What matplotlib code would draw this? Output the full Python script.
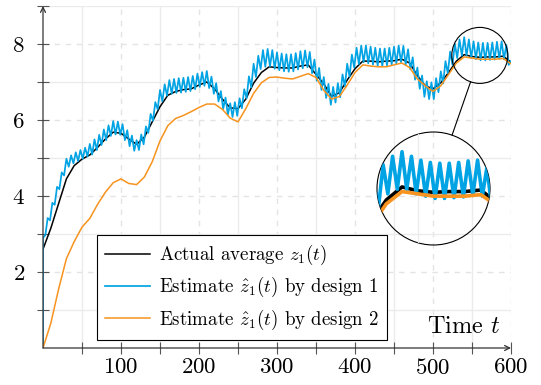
import numpy as np
import matplotlib
matplotlib.use('Agg')
import matplotlib.pyplot as plt
from matplotlib.patches import Circle, Ellipse
from matplotlib.lines import Line2D

plt.rcParams['font.family'] = ['cmr10', 'DejaVu Serif']
plt.rcParams['mathtext.fontset'] = 'cm'
plt.rcParams['axes.formatter.use_mathtext'] = True

# ---- data ----
t_coarse = np.arange(0, 601, 10)

actual_avg = [2.60, 3.15, 3.80, 4.45, 4.80, 4.97, 5.08, 5.28, 5.50, 5.68,
              5.65, 5.50, 5.36, 5.55, 5.95, 6.35, 6.65, 6.75, 6.80, 6.82,
              6.92, 7.00, 6.82, 6.55, 6.32, 6.30, 6.55, 6.97, 7.25, 7.40,
              7.38, 7.37, 7.37, 7.42, 7.45, 7.20, 6.95, 6.62, 6.72, 7.05,
              7.35, 7.55, 7.55, 7.53, 7.55, 7.56, 7.60, 7.50, 7.17, 6.90,
              6.82, 6.98, 7.25, 7.55, 7.72, 7.67, 7.65, 7.66, 7.66, 7.68,
              7.52]

design2 = [0.00, 0.65, 1.55, 2.35, 2.80, 3.18, 3.41, 3.78, 4.10, 4.35,
           4.45, 4.33, 4.30, 4.50, 4.90, 5.45, 5.85, 6.04, 6.12, 6.22,
           6.33, 6.42, 6.42, 6.28, 6.05, 5.95, 6.30, 6.70, 6.98, 7.12,
           7.13, 7.10, 7.08, 7.15, 7.22, 7.12, 6.78, 6.55, 6.62, 6.92,
           7.25, 7.45, 7.42, 7.40, 7.40, 7.45, 7.50, 7.38, 7.08, 6.90,
           6.75, 6.90, 7.20, 7.50, 7.66, 7.63, 7.60, 7.60, 7.60, 7.62,
           7.48]

t_fine = np.concatenate([[0], np.arange(0, 601, 3)])

design1 = [0.00,
           2.90, 2.97, 3.42, 3.36, 3.82, 3.77, 4.24, 4.18, 4.62, 4.54,
           4.98, 4.77, 5.07, 4.86, 5.15, 4.92, 5.21, 4.98, 5.27, 5.04,
           5.37, 5.09, 5.49, 5.21, 5.61, 5.34, 5.75, 5.47, 5.86, 5.58,
           5.97, 5.62, 5.96, 5.61, 5.89, 5.47, 5.73, 5.31, 5.59, 5.19,
           5.47, 5.21, 5.62, 5.36, 5.83, 5.66, 6.16, 5.98, 6.47, 6.28,
           6.79, 6.49, 6.94, 6.64, 7.05, 6.69, 7.08, 6.71, 7.10, 6.72,
           7.11, 6.74, 7.13, 6.76, 7.16, 6.81, 7.22, 6.87, 7.26, 6.90,
           7.29, 6.84, 7.14, 6.69, 6.97, 6.49, 6.76, 6.29, 6.59, 6.14,
           6.44, 6.08, 6.47, 6.11, 6.57, 6.31, 6.81, 6.57, 7.15, 6.86,
           7.48, 7.13, 7.69, 7.34, 7.84, 7.40, 7.87, 7.41, 7.84, 7.35,
           7.78, 7.31, 7.75, 7.28, 7.73, 7.27, 7.73, 7.28, 7.76, 7.33,
           7.81, 7.36, 7.83, 7.39, 7.79, 7.23, 7.59, 7.03, 7.37, 6.79,
           7.13, 6.58, 6.95, 6.40, 6.87, 6.46, 6.97, 6.60, 7.20, 6.88,
           7.48, 7.14, 7.72, 7.38, 7.90, 7.47, 7.96, 7.52, 7.96, 7.49,
           7.93, 7.46, 7.90, 7.43, 7.88, 7.42, 7.88, 7.43, 7.90, 7.46,
           7.93, 7.49, 7.96, 7.52, 7.95, 7.45, 7.86, 7.33, 7.65, 7.06,
           7.38, 6.82, 7.17, 6.61, 7.02, 6.55, 6.99, 6.55, 7.10, 6.73,
           7.28, 6.96, 7.55, 7.23, 7.80, 7.45, 8.01, 7.63, 8.12, 7.69,
           8.18, 7.69, 8.12, 7.63, 8.07, 7.60, 8.04, 7.57, 8.03, 7.57,
           8.03, 7.58, 8.04, 7.59, 8.06, 7.61, 8.07, 7.60, 7.98, 7.45,
           7.55]

labels = [r'Actual average $z_1(t)$',
          r'Estimate $\hat{z}_1(t)$ by design 1',
          r'Estimate $\hat{z}_1(t)$ by design 2']
colors = ['black', '#00a3e3', '#f7931e']

# zoom window (center and half sizes, data units)
zoom_c = (560, 7.70)
zoom_rx, zoom_ry = 35.9, 0.737

fig = plt.figure(figsize=(5.41, 3.85), dpi=100)
ax = fig.add_axes([43 / 541, 37 / 385, 468 / 541, 342 / 385])

ax.plot(t_coarse, actual_avg, color=colors[0], lw=1.1, label=labels[0])
ax.plot(t_fine, design1, color=colors[1], lw=1.25, label=labels[1])
ax.plot(t_coarse, design2, color=colors[2], lw=1.1, label=labels[2])

ax.set_xlim(0, 600)
ax.set_ylim(0, 9)
ax.set_xticks(np.arange(100, 601, 100))
ax.set_xticks(np.arange(50, 600, 100), minor=True)
ax.set_yticks([2, 4, 6, 8])
ax.set_yticks([1, 3, 5, 7, 9], minor=True)
ax.grid(which='major', ls=(0, (4, 4)), color='#e4e4e4', lw=1.0)
ax.grid(which='minor', ls='-', color='#ebebeb', lw=1.0)
ax.set_axisbelow(True)
for s in ax.spines.values():
    s.set_visible(False)
ax.tick_params(which='both', direction='inout', length=8, width=0.8,
               color='#555555', labelsize=16.5)
ax.tick_params(axis='x', pad=3)
ax.tick_params(axis='y', pad=9)

arrow = dict(arrowstyle='->', color='#333333', lw=0.9, shrinkA=0, shrinkB=0,
             mutation_scale=9)
ax.annotate('', xy=(600, 0), xytext=(0, 0), arrowprops=arrow,
            annotation_clip=False)
ax.annotate('', xy=(0, 9), xytext=(0, 0), arrowprops=arrow,
            annotation_clip=False)

ax.text(587, 0.39, r'Time $t$', fontsize=17.5, ha='right', va='baseline')

leg = ax.legend(loc='upper left', bbox_to_anchor=(0.115, 0.330),
                borderaxespad=0, fontsize=13.6, fancybox=False,
                edgecolor='black', framealpha=1, handlelength=2.4,
                handletextpad=0.45, labelspacing=0.42, borderpad=0.42)
leg.get_frame().set_linewidth(0.8)

# small circle marking the zoomed region
ax.add_patch(Ellipse(zoom_c, 2 * zoom_rx, 2 * zoom_ry, fill=False,
                     ec='black', lw=0.8, zorder=5))

# inset (magnified view in a circle)
ins = fig.add_axes([377 / 541, 140 / 385, 113 / 541, 113 / 385])
ins.patch.set_alpha(0)
for s in ins.spines.values():
    s.set_visible(False)
ins.set_xticks([])
ins.set_yticks([])
ins.set_xlim(zoom_c[0] - zoom_rx, zoom_c[0] + zoom_rx)
ins.set_ylim(zoom_c[1] - zoom_ry, zoom_c[1] + zoom_ry)
clip = Circle((0.5, 0.5), 0.5, transform=ins.transAxes)
gl = ins.axvline(550, color='#ebebeb', lw=1.0)
gl.set_clip_path(clip)
for tt, yy, c in [(t_coarse, actual_avg, colors[0]),
                  (t_fine, design1, colors[1]),
                  (t_coarse, design2, colors[2])]:
    ln, = ins.plot(tt, yy, color=c, lw=2.6)
    ln.set_clip_path(clip)
ins.add_patch(Circle((0.5, 0.5), 0.5, transform=ins.transAxes, fill=False,
                     ec='black', lw=0.8, clip_on=False))

# connector between the two circles
fig.canvas.draw()
p_small = ax.transData.transform(zoom_c)
p_big = ins.transAxes.transform((0.5, 0.5))
r_small = ax.transData.transform((zoom_c[0] + zoom_rx, zoom_c[1]))[0] - p_small[0]
r_big = ins.transAxes.transform((1, 0.5))[0] - p_big[0]
d = p_big - p_small
u = d / np.hypot(*d)
a = p_small + r_small * u
b = p_big - r_big * u
W, H = fig.bbox.width, fig.bbox.height
fig.add_artist(Line2D([a[0] / W, b[0] / W], [a[1] / H, b[1] / H],
                      transform=fig.transFigure, color='black', lw=0.8))

fig.savefig('out.png', dpi=100)
